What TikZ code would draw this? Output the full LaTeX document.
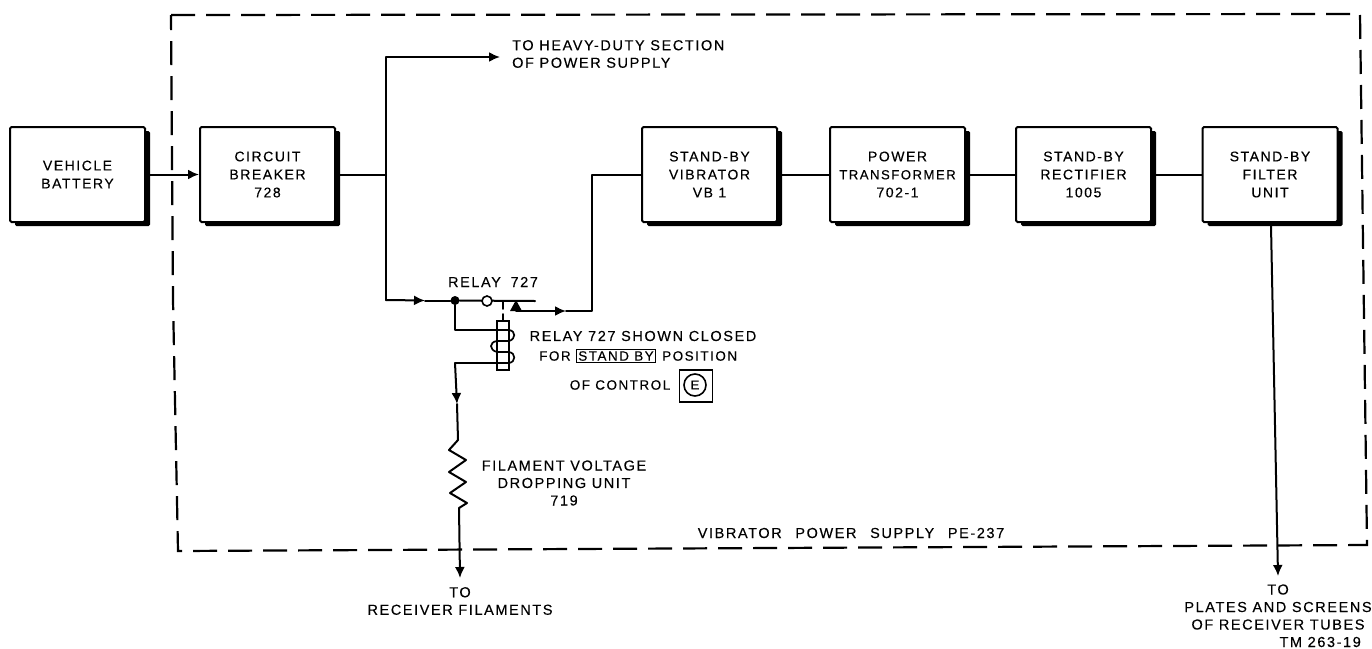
\documentclass[tikz,border=0pt]{standalone}
\usepackage{fontspec}
\setmainfont[LetterSpace=11,FakeBold=0.25]{Liberation Sans}
\usetikzlibrary{arrows.meta,shadows,calc}
\tikzset{
  x=1pt,y=-1pt,
  wire/.style={line width=2pt,line join=round,line cap=round},
  wirearrow/.style={wire,-{Latex[length=11pt,width=10pt]}},
  blockbox/.style={draw,line width=2pt,fill=white,rounded corners=1.5pt,minimum width=135pt,minimum height=95pt,inner sep=0pt,align=center,
     font=\fontsize{14}{18}\selectfont,general shadow={fill=black,shadow xshift=5pt,shadow yshift=-4pt}},
  lbl/.style={inner sep=0pt,align=center,font=\fontsize{14.5}{17.5}\selectfont},
  lblsmall/.style={inner sep=0pt,align=center,font=\fontsize{13.5}{17.5}\selectfont},
  frameline/.style={line width=2.2pt,dash pattern=on 24pt off 11pt},
}
\begin{document}
\begin{tikzpicture}
\useasboundingbox (0,0) rectangle (1372,648);
% outer frame
\coordinate (f1) at (171,15);
\coordinate (f2) at (1360,14);
\coordinate (f3) at (1367,545);
\coordinate (f4) at (178,551);
\coordinate (f5) at (173,300);
\draw[frameline] (f1) -- (f2) -- (f3) -- (f4) -- (f5) -- cycle;
% blocks
\node[blockbox] (veh) at (77.5,174.5) {VEHICLE\\BATTERY};
\node[blockbox] (cb)  at (267.5,174.5) {CIRCUIT\\BREAKER\\728};
\node[blockbox] (vib) at (709.5,174.5) {STAND-BY\\VIBRATOR\\VB 1};
\node[blockbox] (pt)  at (897.5,174.5) {POWER\\{\fontsize{13.2}{18}\selectfont TRANSFORMER}\\702-1};
\node[blockbox] (rec) at (1083.5,174.5) {STAND-BY\\RECTIFIER\\1005};
\node[blockbox] (fil) at (1270,174.5) {STAND-BY\\FILTER\\UNIT};
% series chain
\draw[wirearrow] (veh.east) -- (cb.west);
\draw[wire] (vib.east) -- (pt.west);
\draw[wire] (pt.east) -- (rec.west);
\draw[wire] (rec.east) -- (fil.west);
% main junctions
\coordinate (j1) at (386,174.5);
\coordinate (j2) at (386,57);
\coordinate (heavy) at (500,57);
\coordinate (j3) at (386,300);
\coordinate (a1) at (425,300.5);
\node[circle,fill=black,inner sep=0pt,minimum size=9pt] (dot) at (455,300.5) {};
\coordinate (cend) at (535,301);
\coordinate (pivot) at (516,311);
\coordinate (a2) at (566,311);
\coordinate (j4) at (592,311);
\coordinate (j5) at (592,174.5);
\draw[wire] (cb.east) -- (j1);
\draw[wirearrow] (j1) -- (j2) -- (heavy);
\draw[wire] (j1) -- (j3);
\draw[wirearrow] (j3) -- (a1);
\draw[wire] (a1) -- (dot);
\draw[wire] (dot) -- (cend);
\node[circle,draw,fill=white,line width=1.6pt,inner sep=0pt,minimum size=10pt] (cont) at (487,301) {};
\fill (pivot) ++(-6,0) -- ++(6,-11) -- ++(6,11) -- cycle;
\draw[wirearrow] (pivot) -- (a2);
\draw[wire] (a2) -- (j4) -- (j5) -- (vib.west);
% relay coil
\node[draw,fill=white,line width=1.8pt,minimum width=12pt,minimum height=49pt,inner sep=0pt] (coil) at (503,345.5) {};
\draw[wire,line width=1.6pt] (503,302) -- (503,309);
\draw[wire,line width=1.6pt] (503,314) -- (coil.north);
\coordinate (c1) at (497,330);
\coordinate (c2) at (455,330);
\coordinate (c3) at (497,363);
\coordinate (c4) at (455,363);
\draw[wire] (dot) -- (c2) -- (c1);
\draw[wire,line width=1.7pt] (c1) -- (509,330) .. controls (516,331) and (516,339) .. (509,341) -- (497,341)
   .. controls (489,342) and (489,350) .. (497,352) -- (509,352) .. controls (516,353) and (516,362) .. (509,363) -- (c3);
\draw[wire] (c3) -- (c4);
% filament branch
\coordinate (a3) at (457,404);
\coordinate (r0) at (458,440);
\coordinate (r9) at (459,508);
\coordinate (tofil) at (460,578);
\draw[wirearrow] (c4) -- (a3);
\draw[wire] (a3) -- (r0) -- (449,450) -- (466,460) -- (449,472) -- (466,482) -- (450,493) -- (467,503) -- (r9);
\draw[wirearrow] (r9) -- (tofil);
% filter output
\coordinate (fo) at (1271,226);
\coordinate (totube) at (1278,576);
\draw[wirearrow] (fo) -- (totube);
% labels
\node[lbl,anchor=west,align=left] (t1) at (512,54) {TO HEAVY-DUTY SECTION\\OF POWER SUPPLY};
\node[lbl] (t2) at (493,282) {RELAY\hspace{4pt} 727};
\node[lbl] (t3) at (643,336) {RELAY 727 SHOWN CLOSED};
\node[lblsmall,anchor=west] (t4) at (539,356) {FOR};
\node[lblsmall,draw,line width=0.8pt,inner xsep=1.5pt,inner ysep=2pt] (t5) at (616,356) {STAND BY};
\node[lblsmall,anchor=west] (t6) at (662,356) {POSITION};
\node[lblsmall] (t7) at (620,385) {OF CONTROL};
\node[draw,line width=1.8pt,minimum width=33pt,minimum height=32pt,inner sep=0pt] (ebox) at (696,386) {};
\node[circle,draw,line width=1.6pt,minimum size=22pt,inner sep=0pt,font=\fontsize{13}{15}\selectfont] (ecirc) at (695,385) {E};
\node[lbl] (t8) at (564,483) {FILAMENT VOLTAGE\\DROPPING UNIT\\719};
\node[lbl] (t9) at (851,533) {VIBRATOR\hspace{8pt} POWER\hspace{8pt} SUPPLY\hspace{8pt} PE-237};
\node[lbl] (t10) at (460,601) {TO\\RECEIVER FILAMENTS};
\node[lbl] (t11) at (1278,607) {TO\\PLATES AND SCREENS\\OF RECEIVER TUBES};
\node[lbl,anchor=east] (t12) at (1361,642) {TM 263-19};
\end{tikzpicture}
\end{document}
